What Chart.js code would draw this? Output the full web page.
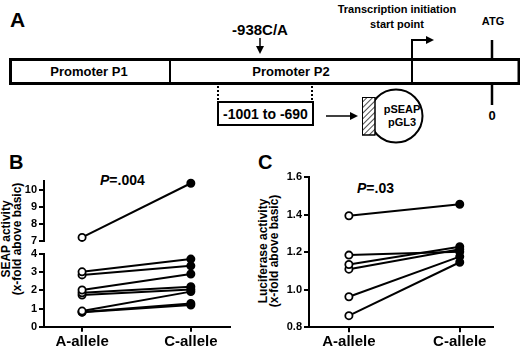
<!DOCTYPE html>
<html>
<head>
<meta charset="utf-8">
<script src="https://cdn.jsdelivr.net/npm/chart.js@4.4.0/dist/chart.umd.min.js"></script>
<style>
  body { margin: 0; background: #fff; font-family: "Liberation Sans", Arial, sans-serif; }
  #page { position: relative; width: 520px; height: 350px; overflow: hidden; }
  canvas { position: absolute; }
  .lbl { position: absolute; font-weight: bold; color: #000; line-height: 1; white-space: nowrap; }
  .ytitle { position: absolute; width: 160px; height: 24px; font-weight: bold; font-size: 12px;
            line-height: 11px; text-align: center; transform: rotate(-90deg); white-space: nowrap; }
</style>
</head>
<body>
<div id="page">
  <!-- panel A : promoter diagram -->
  <svg width="520" height="150" style="position:absolute;left:0;top:0" font-family="Liberation Sans, Arial, sans-serif" font-weight="bold">
    <defs>
      <marker id="head" markerWidth="8" markerHeight="8" refX="6" refY="4" orient="auto" markerUnits="userSpaceOnUse">
        <path d="M0,0 L8,4 L0,8 z" fill="#000"/>
      </marker>
      <pattern id="hatch" width="4" height="4" patternUnits="userSpaceOnUse" patternTransform="rotate(45)">
        <line x1="0" y1="0" x2="0" y2="4" stroke="#000" stroke-width="1.4"/>
      </pattern>
    </defs>
    <text x="10" y="27" font-size="21">A</text>
    <text x="397" y="13" font-size="11" text-anchor="middle">Transcription initiation</text>
    <text x="397" y="28" font-size="11" text-anchor="middle">start point</text>
    <text x="493" y="25" font-size="11" text-anchor="middle">ATG</text>
    <text x="260" y="35" font-size="15" text-anchor="middle">-938C/A</text>
    <line x1="260" y1="38" x2="260" y2="52" stroke="#000" stroke-width="1.5" marker-end="url(#head)"/>
    <path d="M412,59 V40 H432" fill="none" stroke="#000" stroke-width="2" marker-end="url(#head)"/>
    <rect x="10.5" y="59.5" width="508.5" height="24" fill="#fff" stroke="#000" stroke-width="3"/>
    <line x1="170" y1="59" x2="170" y2="84" stroke="#000" stroke-width="2"/>
    <line x1="412" y1="59" x2="412" y2="84" stroke="#000" stroke-width="2"/>
    <text x="89" y="76" font-size="13" text-anchor="middle">Promoter P1</text>
    <text x="291" y="76" font-size="13" text-anchor="middle">Promoter P2</text>
    <line x1="492" y1="40" x2="492" y2="58" stroke="#000" stroke-width="2.5"/>
    <line x1="492" y1="85" x2="492" y2="105" stroke="#000" stroke-width="2.5"/>
    <text x="492" y="120" font-size="13" text-anchor="middle">0</text>
    <line x1="218" y1="86" x2="218" y2="101" stroke="#000" stroke-width="2" stroke-dasharray="2,2"/>
    <line x1="312" y1="86" x2="312" y2="101" stroke="#000" stroke-width="2" stroke-dasharray="2,2"/>
    <rect x="218" y="102" width="95" height="23" fill="#fff" stroke="#000" stroke-width="2"/>
    <text x="265.5" y="119" font-size="14" text-anchor="middle">-1001 to -690</text>
    <line x1="326" y1="116" x2="356" y2="116" stroke="#000" stroke-width="1.5" marker-end="url(#head)"/>
    <circle cx="396" cy="116" r="26.5" fill="#fff" stroke="#000" stroke-width="2"/>
    <rect x="362.5" y="97.5" width="12.5" height="37.5" fill="#fff" stroke="#000" stroke-width="1"/>
    <rect x="362.5" y="97.5" width="12.5" height="37.5" fill="url(#hatch)" stroke="#000" stroke-width="1"/>
    <text x="402" y="113" font-size="11" text-anchor="middle">pSEAP</text>
    <text x="402" y="126" font-size="11" text-anchor="middle">pGL3</text>
  </svg>

  <div class="lbl" style="left:9px;top:152px;font-size:20px">B</div>
  <div class="lbl" style="left:258px;top:152px;font-size:20px">C</div>
  <div class="lbl" style="left:100px;top:173px;font-size:14px"><i>P</i>=.004</div>
  <div class="lbl" style="left:357px;top:181px;font-size:14px"><i>P</i>=.03</div>
  <div class="ytitle" style="left:-67px;top:227px">SEAP activity<br>(x-fold above basic)</div>
  <div class="ytitle" style="left:190px;top:239px">Luciferase activity<br>(x-fold above basic)</div>

  <canvas id="bHigh" width="250" height="72" style="left:0;top:175px"></canvas>
  <canvas id="bLow" width="250" height="104" style="left:0;top:246px"></canvas>
  <canvas id="cLuc" width="262" height="180" style="left:258px;top:170px"></canvas>
</div>
<script>
// categories
const alleles = ['A-allele', 'C-allele'];
// panel B : SEAP activity, one pair per clone (A-allele -> C-allele)
const seapA = [7.22, 3.02, 2.85, 2.02, 1.87, 1.74, 0.86, 0.81, 0.80];
const seapC = [10.37, 3.72, 3.35, 2.90, 2.20, 2.05, 1.93, 1.28, 1.19];
// panel C : luciferase activity
const lucA = [1.395, 1.185, 1.135, 1.11, 0.963, 0.862];
const lucC = [1.456, 1.203, 1.23, 1.216, 1.177, 1.147];
// tick values
const seapTicksHigh = [7, 8, 9, 10];
const seapTicksLow = [0, 1, 2, 3, 4];
const lucTicks = [0.8, 1.0, 1.2, 1.4, 1.6];

const FONT = '"Liberation Sans", Arial, sans-serif';

// une série par paire A/C : cercle vide puis cercle plein
function pairSets(aVals, cVals) {
    return aVals.map(function(a, i) {
        return {
            data: [{ x: 0, y: a }, { x: 1, y: cVals[i] }],
            borderColor: '#000',
            borderWidth: 2,
            pointRadius: 3.6,
            pointBorderWidth: 1.8,
            pointBorderColor: '#000',
            pointBackgroundColor: ['#fff', '#000'],
            clip: false
        };
    });
}

function pairChart(id, sets, cfg) {
    const ctx = document.getElementById(id).getContext('2d');
    return new Chart(ctx, {
        type: 'line',
        data: { datasets: sets },
        options: {
            responsive: false,
            animation: false,
            devicePixelRatio: 1,
            layout: { padding: cfg.padding },
            plugins: { legend: { display: false }, tooltip: { enabled: false } },
            scales: {
                x: {
                    type: 'linear',
                    display: cfg.showX,
                    min: cfg.xMin,
                    max: cfg.xMax,
                    afterBuildTicks: function(s) { s.ticks = [{ value: 0 }, { value: 1 }]; },
                    afterFit: function(s) { s.height = cfg.xHeight; s.paddingLeft = 0; s.paddingRight = 0; },
                    border: { color: '#000', width: 2 },
                    grid: { drawOnChartArea: false, color: '#000', lineWidth: 2, tickLength: 5 },
                    ticks: {
                        color: '#000', padding: 1, maxRotation: 0,
                        font: { family: FONT, size: 15, weight: 'bold' },
                        callback: function(v) { return alleles[v]; }
                    }
                },
                y: {
                    min: cfg.yMin,
                    max: cfg.yMax,
                    afterBuildTicks: function(s) { s.ticks = cfg.ticks.map(function(v) { return { value: v }; }); },
                    afterFit: function(s) { s.width = cfg.yWidth; s.paddingTop = 0; s.paddingBottom = 0; },
                    border: { color: '#000', width: 2 },
                    grid: { drawOnChartArea: false, color: '#000', lineWidth: 2, tickLength: 5 },
                    ticks: {
                        color: '#000', padding: 2,
                        font: { family: FONT, size: 11, weight: 'bold' },
                        callback: function(v) { return cfg.fmt ? v.toFixed(1) : v; }
                    }
                }
            }
        }
    });
}

// B : axe coupé -> deux graphes superposés
const hiA = [], hiC = [], loA = [], loC = [];
seapA.forEach(function(a, i) {
    if (a > 5) { hiA.push(a); hiC.push(seapC[i]); } else { loA.push(a); loC.push(seapC[i]); }
});
pairChart('bHigh', pairSets(hiA, hiC), {
    padding: { top: 6, right: 20, bottom: 3.7, left: 0 },
    showX: false, xMin: -0.35, xMax: 1.36, xHeight: 0,
    yMin: 7, yMax: 10.5, ticks: seapTicksHigh, yWidth: 44
});
pairChart('bLow', pairSets(loA, loC), {
    padding: { top: 8, right: 20, bottom: 0, left: 0 },
    showX: true, xMin: -0.35, xMax: 1.36, xHeight: 23.3,
    yMin: 0, yMax: 4, ticks: seapTicksLow, yWidth: 44
});
// C
pairChart('cLuc', pairSets(lucA, lucC), {
    padding: { top: 7.3, right: 27, bottom: 0, left: 0 },
    showX: true, xMin: -0.36, xMax: 1.30, xHeight: 22.7,
    yMin: 0.8, yMax: 1.6, ticks: lucTicks, yWidth: 51, fmt: true
});
</script>
</body>
</html>
